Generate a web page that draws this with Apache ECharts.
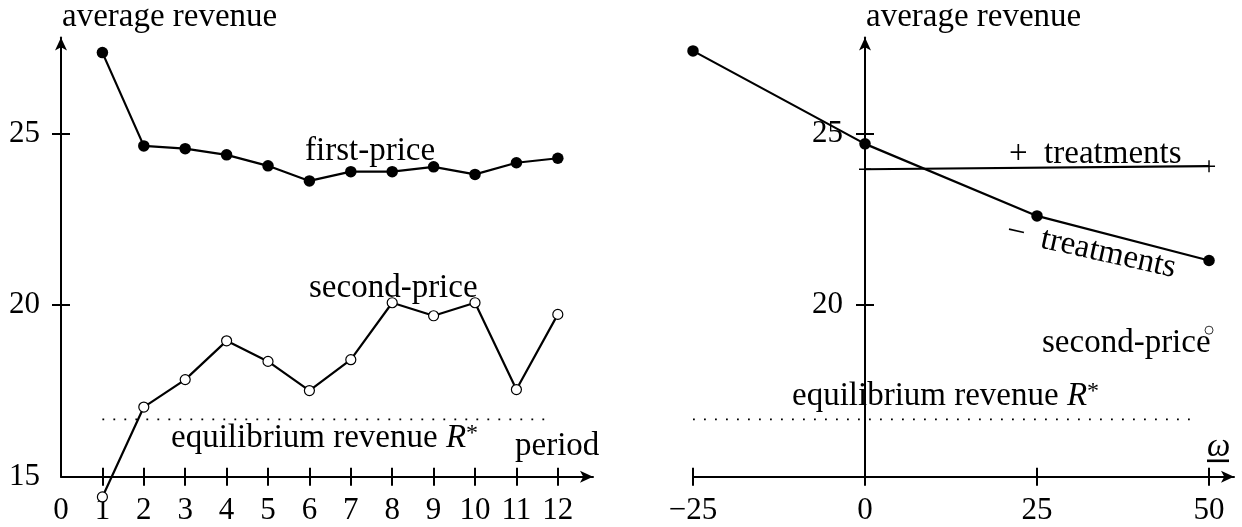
<!DOCTYPE html>
<html><head><meta charset="utf-8">
<script src="https://cdn.jsdelivr.net/npm/echarts@6/dist/echarts.min.js"></script>
<style>html,body{margin:0;padding:0;background:#fff}#c{width:1242px;height:527px}</style>
</head><body><div id="c"></div>
<script>
// ---- data ----
const periods = [1, 2, 3, 4, 5, 6, 7, 8, 9, 10, 11, 12];
const firstPrice = [27.36, 24.64, 24.56, 24.38, 24.06, 23.62, 23.89, 23.89, 24.03, 23.81, 24.15, 24.28];
const secondPrice = [14.41, 17.03, 17.83, 18.96, 18.36, 17.51, 18.41, 20.07, 19.69, 20.07, 17.54, 19.73];
const equilibriumRevenue = 16.67;
const eqPeriodRange = [1, 11.77];
const omegaValues = [-25, 0, 25, 50];
const minusTreatments = [27.41, 24.70, 22.60, 21.30];
const plusOmega = [0, 50];
const plusTreatments = [23.96, 24.05];
const secondPriceOmega = [50];
const secondPriceAtOmega = [19.27];
const eqOmegaRange = [-25, 48.5];
const leftXTickValues = [1, 2, 3, 4, 5, 6, 7, 8, 9, 10, 11, 12];
const leftXLabelValues = [0, 1, 2, 3, 4, 5, 6, 7, 8, 9, 10, 11, 12];
const leftYLabelValues = [15, 20, 25];
const yTickValues = [20, 25];
const rightXTickValues = [-25, 0, 25, 50];
const rightYLabelValues = [20, 25];

const FONT = '"Liberation Serif", "DejaVu Serif", serif';
const TXT = 33;
const NUM = 31;
const LW = 2.2;

function xAxes(gridIndex, min, max, tickVals, labelVals) {
  return [
    { type: 'value', gridIndex, min, max, position: 'bottom',
      axisLine: { show: true, onZero: false, symbol: ['none', 'arrow'], symbolSize: [9, 13],
        lineStyle: { color: '#000', width: 2 } },
      axisTick: { show: true, inside: false, length: 9, customValues: tickVals,
        lineStyle: { color: '#000', width: 2 } },
      axisLabel: { show: true, customValues: labelVals, margin: 19, color: '#000',
        fontFamily: FONT, fontSize: NUM,
        formatter: v => (v < 0 ? '\u2212' + Math.abs(v) : String(v)) },
      splitLine: { show: false } },
    { type: 'value', gridIndex, min, max, position: 'bottom',
      axisLine: { show: false, onZero: false },
      axisTick: { show: true, inside: true, length: 9, customValues: tickVals,
        lineStyle: { color: '#000', width: 2 } },
      axisLabel: { show: false }, splitLine: { show: false } }
  ];
}
function yAxes(gridIndex, min, max, tickVals, labelVals, margin, offset) {
  return [
    { type: 'value', gridIndex, min, max, position: 'left', offset,
      axisLine: { show: true, onZero: false, symbol: ['none', 'arrow'], symbolSize: [9, 13],
        lineStyle: { color: '#000', width: 2 } },
      axisTick: { show: true, inside: false, length: 9, customValues: tickVals,
        lineStyle: { color: '#000', width: 2 } },
      axisLabel: { show: true, customValues: labelVals, margin, color: '#000',
        fontFamily: FONT, fontSize: NUM },
      splitLine: { show: false } },
    { type: 'value', gridIndex, min, max, position: 'left', offset,
      axisLine: { show: false, onZero: false },
      axisTick: { show: true, inside: true, length: 9, customValues: tickVals,
        lineStyle: { color: '#000', width: 2 } },
      axisLabel: { show: false }, splitLine: { show: false } }
  ];
}

const plusSymbol = 'path://M4.4,0H5.6V4.4H10V5.6H5.6V10H4.4V5.6H0V4.4H4.4Z';
const black = '#000';
const baseLine = { type: 'line', animation: false, clip: false, silent: true };

const textStyle = (text, x, y, extra) => Object.assign({
  type: 'text', x, y, silent: true,
  style: { text, fill: black, font: TXT + 'px ' + FONT, align: 'left', verticalAlign: 'middle' }
}, extra || {});

function eqText(x, y) {
  return {
    type: 'text', x, y, silent: true,
    style: {
      text: 'equilibrium revenue {r|R}{s|*}', fill: black,
      font: TXT + 'px ' + FONT, fontSize: TXT, fontFamily: FONT,
      align: 'left', verticalAlign: 'middle',
      rich: {
        r: { fontFamily: FONT, fontSize: TXT, fontStyle: 'italic', fill: black },
        s: { fontFamily: FONT, fontSize: 24, fill: black, verticalAlign: 'top', lineHeight: 33 }
      }
    }
  };
}

// right grid geometry: x from -25 (left edge); the vertical axis sits at omega = 0
const RIGHT_LEFT = 693, RIGHT_W = 541, RIGHT_MIN = -25, RIGHT_MAX = 53.63;
const zeroOffset = -(0 - RIGHT_MIN) / (RIGHT_MAX - RIGHT_MIN) * RIGHT_W;

const option = {
  backgroundColor: '#fff',
  animation: false,
  grid: [
    { left: 61, top: 37.5, width: 532, height: 439.2, containLabel: false, outerBoundsMode: 'none' },
    { left: RIGHT_LEFT, top: 37.5, width: RIGHT_W, height: 439.2, containLabel: false, outerBoundsMode: 'none' }
  ],
  xAxis: [
    ...xAxes(0, 0, 12.85, leftXTickValues, leftXLabelValues),
    ...xAxes(1, RIGHT_MIN, RIGHT_MAX, rightXTickValues, omegaValues)
  ],
  yAxis: [
    ...yAxes(0, 15, 27.8, yTickValues, leftYLabelValues, 21, 0),
    ...yAxes(1, 15, 27.8, yTickValues, rightYLabelValues, 22, zeroOffset)
  ],
  series: [
    Object.assign({}, baseLine, {
      name: 'equilibrium-left', xAxisIndex: 0, yAxisIndex: 0, z: 1,
      data: eqPeriodRange.map(p => [p, equilibriumRevenue]), symbol: 'none',
      lineStyle: { color: black, width: 1.8, type: [1.8, 9.2], cap: 'butt' }
    }),
    Object.assign({}, baseLine, {
      name: 'first-price', xAxisIndex: 0, yAxisIndex: 0, z: 3,
      data: periods.map((p, i) => [p, firstPrice[i]]),
      symbol: 'circle', symbolSize: 11.5, itemStyle: { color: black },
      lineStyle: { color: black, width: LW }
    }),
    Object.assign({}, baseLine, {
      name: 'second-price', xAxisIndex: 0, yAxisIndex: 0, z: 3,
      data: periods.map((p, i) => [p, secondPrice[i]]),
      symbol: 'circle', symbolSize: 10,
      itemStyle: { color: '#fff', borderColor: black, borderWidth: 1.2 },
      lineStyle: { color: black, width: LW }
    }),
    Object.assign({}, baseLine, {
      name: 'equilibrium-right', xAxisIndex: 2, yAxisIndex: 2, z: 1,
      data: eqOmegaRange.map(w => [w, equilibriumRevenue]), symbol: 'none',
      lineStyle: { color: black, width: 1.8, type: [1.8, 9.2], cap: 'butt' }
    }),
    Object.assign({}, baseLine, {
      name: '+ treatments', xAxisIndex: 2, yAxisIndex: 2, z: 3,
      data: plusOmega.map((w, i) => [w, plusTreatments[i]]),
      symbol: plusSymbol, symbolSize: 12, itemStyle: { color: black },
      lineStyle: { color: black, width: LW }
    }),
    Object.assign({}, baseLine, {
      name: '- treatments', xAxisIndex: 2, yAxisIndex: 2, z: 3,
      data: omegaValues.map((w, i) => [w, minusTreatments[i]]),
      symbol: 'circle', symbolSize: 11.5, itemStyle: { color: black },
      lineStyle: { color: black, width: LW }
    }),
    Object.assign({}, baseLine, {
      name: 'second-price-right', type: 'scatter', xAxisIndex: 2, yAxisIndex: 2, z: 3,
      data: secondPriceOmega.map((w, i) => [w, secondPriceAtOmega[i]]),
      symbol: 'circle', symbolSize: 8,
      itemStyle: { color: '#fff', borderColor: black, borderWidth: 1 }
    })
  ],
  graphic: [
    textStyle('average revenue', 62, 17),
    textStyle('first-price', 305, 151),
    textStyle('second-price', 309, 288),
    eqText(171, 438),
    textStyle('period', 515, 446),
    textStyle('average revenue', 866, 17),
    textStyle('+\u2002treatments', 1009, 154),
    textStyle('\u2212\u2002treatments', 1007, 231, { rotation: -0.22 }),
    textStyle('second-price', 1042, 343),
    eqText(792, 396),
    { type: 'text', x: 1207, y: 447, silent: true,
      style: { text: '\u03c9', fill: black, font: 'italic ' + TXT + 'px ' + FONT,
        align: 'left', verticalAlign: 'middle' } },
    { type: 'rect', silent: true, shape: { x: 1207, y: 459.5, width: 22, height: 2.6 },
      style: { fill: black } }
  ]
};

const chart = echarts.init(document.getElementById('c'), null, { renderer: 'canvas' });
chart.setOption(option);
</script>
</body></html>
